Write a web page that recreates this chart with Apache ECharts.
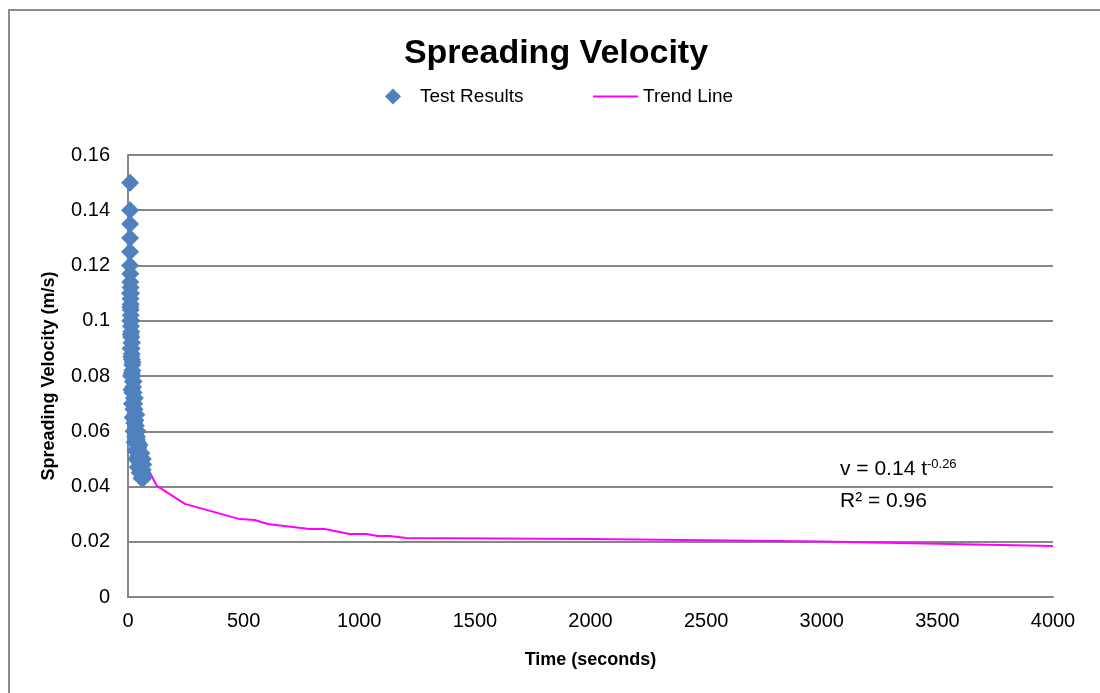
<!DOCTYPE html>
<html>
<head>
<meta charset="utf-8">
<script src="https://cdn.jsdelivr.net/npm/echarts@6/dist/echarts.min.js"></script>
<style>
  html, body { margin: 0; padding: 0; background: #fff; }
  #chart { width: 1100px; height: 693px; }
</style>
</head>
<body>
<div id="chart"></div>
<script>
// test results (time in s, velocity in m/s)
var testTime = [9, 9, 9, 9, 9, 9,
    10, 10, 11, 11, 11, 12, 12, 12, 13, 13, 14, 14, 15, 16, 16, 17, 18, 19, 20, 21, 22, 24, 25, 27, 28, 30, 32, 34, 36, 39, 42, 45, 48, 52, 56, 60, 64, 66,
    9, 10, 11, 13, 15, 17, 20, 24, 28, 32, 36, 42, 50, 58,
    13, 14, 17, 20, 24, 30, 36, 42, 50, 58, 64, 66, 64,
    10, 12, 14, 16, 19, 23, 27, 31, 38, 44, 47, 54, 62];
var testVel = [0.150, 0.140, 0.135, 0.130, 0.125, 0.120,
    0.117, 0.114, 0.112, 0.110, 0.108, 0.106, 0.104, 0.102, 0.100, 0.098, 0.096, 0.094, 0.092, 0.090, 0.088, 0.086, 0.084, 0.082, 0.080, 0.078, 0.076, 0.074, 0.072, 0.070, 0.068, 0.066, 0.064, 0.062, 0.060, 0.058, 0.056, 0.054, 0.052, 0.050, 0.048, 0.046, 0.044, 0.043,
    0.110, 0.100, 0.090, 0.080, 0.075, 0.070, 0.065, 0.060, 0.056, 0.053, 0.050, 0.047, 0.045, 0.043,
    0.110, 0.100, 0.092, 0.085, 0.078, 0.072, 0.066, 0.060, 0.055, 0.052, 0.050, 0.048, 0.046,
    0.105, 0.095, 0.087, 0.081, 0.074, 0.068, 0.063, 0.058, 0.057, 0.051, 0.049, 0.047, 0.045];

// trend line as drawn
var trendTime = [95, 125, 246, 483, 548, 604, 785, 850, 958, 1031, 1079, 1131, 1204, 2000, 3000, 4000];
var trendVel = [0.045, 0.0402, 0.0337, 0.0282, 0.0279, 0.0264, 0.0246, 0.0246, 0.0228, 0.0228, 0.0221, 0.0221, 0.0214, 0.0210, 0.0201, 0.0185];

var xTicks = [0, 500, 1000, 1500, 2000, 2500, 3000, 3500, 4000];
var yTicks = [0, 0.02, 0.04, 0.06, 0.08, 0.1, 0.12, 0.14, 0.16];

var font = 'Liberation Sans';
var blue = '#4f81bd';
var magenta = '#ff00ff';

var chart = echarts.init(document.getElementById('chart'));

var option = {
    animation: false,
    textStyle: { fontFamily: font },
    title: {
        text: 'Spreading Velocity',
        left: 551,
        textAlign: 'center',
        top: 32,
        textStyle: { fontSize: 34, fontWeight: 'bold', color: '#000', fontFamily: font }
    },
    legend: [
        {
            top: 82,
            left: 380,
            itemWidth: 16,
            itemHeight: 16,
            textStyle: { fontSize: 19, color: '#000', fontFamily: font, padding: [0, 0, 0, 14] },
            data: [{ name: 'Test Results', icon: 'diamond', itemStyle: { color: blue, opacity: 1 } }]
        },
        {
            top: 82,
            left: 588,
            itemWidth: 45,
            itemHeight: 2,
            textStyle: { fontSize: 19, color: '#000', fontFamily: font },
            data: [{ name: 'Trend Line', icon: 'rect', itemStyle: { color: magenta } }]
        }
    ],
    grid: { left: 128, right: 47, top: 155, bottom: 96 },
    xAxis: {
        type: 'value',
        min: xTicks[0],
        max: xTicks[xTicks.length - 1],
        interval: 500,
        name: 'Time (seconds)',
        nameLocation: 'middle',
        nameGap: 54,
        nameTextStyle: { fontSize: 18, fontWeight: 'bold', color: '#000', fontFamily: font },
        axisLine: { show: true, lineStyle: { color: '#868686', width: 2 } },
        axisTick: { show: false },
        splitLine: { show: false },
        axisLabel: {
            fontSize: 20, color: '#000', margin: 14, fontFamily: font,
            formatter: function (v) { return String(v); }
        }
    },
    yAxis: {
        type: 'value',
        min: yTicks[0],
        max: yTicks[yTicks.length - 1],
        interval: 0.02,
        name: 'Spreading Velocity (m/s)',
        nameLocation: 'middle',
        nameGap: 70,
        nameTextStyle: { fontSize: 18, fontWeight: 'bold', color: '#000', fontFamily: font },
        axisLine: { show: true, lineStyle: { color: '#868686', width: 2 } },
        axisTick: { show: false },
        splitLine: { show: true, lineStyle: { color: '#868686', width: 2 } },
        axisLabel: {
            fontSize: 20, color: '#000', margin: 18, fontFamily: font,
            formatter: function (v) { return String(Math.round(v * 100) / 100); }
        }
    },
    graphic: [
        {
            type: 'rect',
            shape: { x: 9, y: 10, width: 1200, height: 800 },
            style: { fill: 'none', stroke: '#8c8c8c', lineWidth: 2 },
            z: -1
        },
        {
            type: 'text',
            left: 840,
            top: 458,
            style: {
                text: '{a|v = 0.14 t}{s|-0.26}',
                rich: {
                    a: { fontSize: 21, fill: '#000', fontFamily: font },
                    s: { fontSize: 13, fill: '#000', fontFamily: font, verticalAlign: 'top', padding: [0, 0, 10, 0] }
                }
            }
        },
        {
            type: 'text',
            left: 840,
            top: 491,
            style: { text: 'R² = 0.96', fontSize: 21, fill: '#000', fontFamily: font }
        }
    ],
    series: [
        {
            name: 'Trend Line',
            type: 'line',
            data: trendTime.map(function (t, i) { return [t, trendVel[i]]; }),
            showSymbol: false,
            symbol: 'none',
            lineStyle: { color: magenta, width: 2 },
            itemStyle: { color: magenta },
            z: 1
        },
        {
            name: 'Test Results',
            type: 'scatter',
            data: testTime.map(function (t, i) { return [t, testVel[i]]; }),
            symbol: 'diamond',
            symbolSize: 18,
            itemStyle: { color: blue, opacity: 1 },
            z: 3
        }
    ]
};

chart.setOption(option);
</script>
</body>
</html>
